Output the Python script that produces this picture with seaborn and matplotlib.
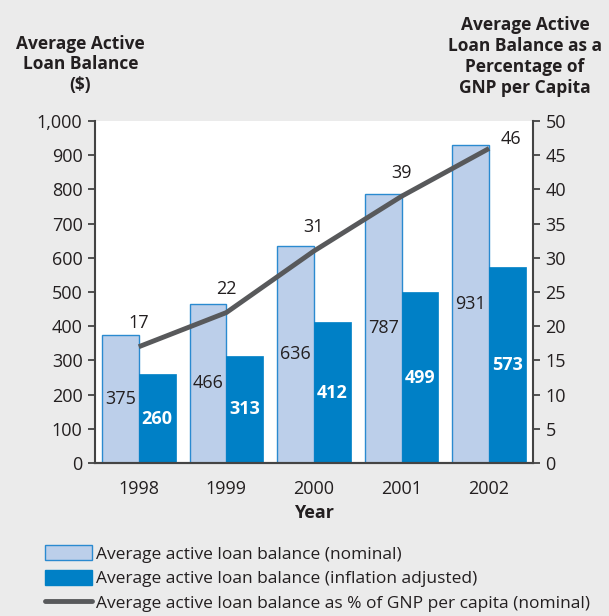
import matplotlib
matplotlib.use("Agg")
import matplotlib.pyplot as plt
import matplotlib.ticker as mticker
from matplotlib.patches import Patch
from matplotlib.lines import Line2D
import seaborn as sns
import pandas as pd
import numpy as np

years = ["1998", "1999", "2000", "2001", "2002"]
nominal = [375, 466, 636, 787, 931]
adjusted = [260, 313, 412, 499, 573]
pct_gnp = [17, 22, 31, 39, 46]

series_names = ["Average active loan balance (nominal)",
                "Average active loan balance (inflation adjusted)"]
line_name = "Average active loan balance as % of GNP per capita (nominal)"

light = "#bccfea"
light_edge = "#2a8ad0"
dark = "#0080c6"
line_col = "#58595b"
bg = "#ebebeb"
txt = "#231f20"

df = pd.DataFrame({
    "year": years * 2,
    "value": nominal + adjusted,
    "series": [series_names[0]] * 5 + [series_names[1]] * 5,
})

sns.set_style("white")
plt.rcParams["font.family"] = ["Open Sans", "DejaVu Sans"]
plt.rcParams["text.color"] = txt

fig = plt.figure(figsize=(6.09, 6.16), dpi=100, facecolor=bg)
ax = fig.add_axes([0.156, 0.2484, 0.719, 0.555])
ax.set_facecolor("white")

sns.barplot(data=df, x="year", y="value", hue="series",
            palette=[light, dark], width=0.84, gap=0, saturation=1,
            ax=ax, legend=False)

for p in ax.containers[0]:
    p.set_edgecolor(light_edge)
    p.set_linewidth(1.0)
for p in ax.containers[1]:
    p.set_edgecolor(dark)
    p.set_linewidth(0.5)

ax.bar_label(ax.containers[0], labels=[str(v) for v in nominal],
             label_type="center", fontsize=13, color=txt)
ax.bar_label(ax.containers[1], labels=[str(v) for v in adjusted],
             label_type="center", fontsize=13, color="white", fontweight="bold")

ax.set_xlim(-0.5, 4.5)
ax.set_ylim(0, 1000)
ax.set_yticks(range(0, 1001, 100))
ax.yaxis.set_major_formatter(mticker.FuncFormatter(lambda v, p: f"{int(v):,}"))

ax2 = ax.twinx()
xpos = np.arange(len(years))
sns.lineplot(x=xpos, y=pct_gnp, color=line_col, linewidth=3.5, ax=ax2,
             solid_capstyle="butt")
ax2.set_ylim(0, 50)
ax2.set_yticks(range(0, 51, 5))
ax2.set_ylabel("")
for i, v in enumerate(pct_gnp):
    if i == len(pct_gnp) - 1:
        ax2.annotate(str(v), (xpos[i], v), xytext=(16, 7), textcoords="offset points",
                     ha="center", va="center", fontsize=13, color=txt)
    else:
        ax2.annotate(str(v), (xpos[i], v), xytext=(0, 17), textcoords="offset points",
                     ha="center", va="center", fontsize=13, color=txt)

for a in (ax, ax2):
    for s in ("top", "left", "right"):
        a.spines[s].set_visible(False)
    a.spines["bottom"].set_color("#444444")
    a.spines["bottom"].set_linewidth(1.5)
ax.spines["left"].set_visible(True)
ax.spines["left"].set_color("#444444")
ax.spines["left"].set_linewidth(1.5)
ax2.spines["right"].set_visible(True)
ax2.spines["right"].set_color("#444444")
ax2.spines["right"].set_linewidth(1.5)

ax.tick_params(axis="y", left=True, length=5, width=1.3, color="#444444",
               labelsize=13, labelcolor=txt, pad=4)
ax.tick_params(axis="x", bottom=False, labelsize=13, labelcolor=txt, pad=9)
ax2.tick_params(axis="y", right=True, length=5, width=1.3, color="#444444",
                labelsize=13, labelcolor=txt, pad=4)

ax.set_xlabel("Year", fontsize=13, fontweight="bold", color=txt, labelpad=4)
ax.set_ylabel("")

fig.text(0.132, 0.847, "Average Active\nLoan Balance\n($)", ha="center", va="bottom",
         fontsize=12.5, fontweight="bold", linespacing=1.2)
fig.text(0.862, 0.843, "Average Active\nLoan Balance as a\nPercentage of\nGNP per Capita",
         ha="center", va="bottom", fontsize=12.5, fontweight="bold", linespacing=1.2)

handles = [
    Patch(facecolor=light, edgecolor=light_edge, linewidth=1.0),
    Patch(facecolor=dark, edgecolor=dark),
    Line2D([0], [0], color=line_col, linewidth=3.5),
]
fig.legend(handles, series_names + [line_name], loc="upper left",
           bbox_to_anchor=(0.074, 0.115), frameon=False, fontsize=12.5,
           handlelength=2.7, handleheight=0.95, handletextpad=0.25,
           labelspacing=0.42, borderaxespad=0, borderpad=0)

fig.savefig("out.png", dpi=100, facecolor=bg)
